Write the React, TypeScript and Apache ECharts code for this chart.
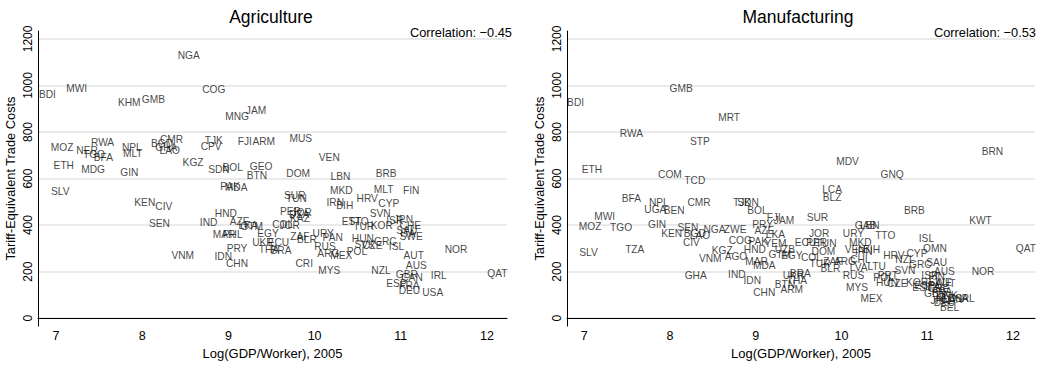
import React, { useEffect, useRef } from "react";
import * as echarts from "echarts";

// ---------- Agriculture panel ----------
const agrCodes = [
  "NGA","BDI","MWI","COG","KHM","GMB","JAM","MNG","CMR","TJK","FJI","ARM","MUS",
  "MOZ","RWA","NPL","NER","TGO","BFA","MLT","BGD","GHA","LAO","CPV","ETH","MDG",
  "GIN","KGZ","SDN","BOL","GEO","BTN","VEN","DOM","LBN","BRB","SLV","PAK","MDA",
  "MKD","MLT","FIN","HRV","CYP","SUR","TUN","IRN","BIH","KEN","CIV","HND","SEN",
  "IND","AZE","LKA","GTM","MAR","PHL","EGY","UKR","ECU","PRY","THA","BRA","VNM",
  "IDN","CHN","PER","JOR","DZA","KAZ","COL","JOR","ZAF","BLR","URY","PAN","RUS",
  "ARG","MEX","POL","HUN","SVK","CZE","GRC","ISL","EST","TTO","TUR","KOR","SVN",
  "ISR","JPN","CHE","SAU","ITA","SWE","AUT","AUS","NZL","CRI","MYS","GBR","CAN",
  "ESP","FRA","DEU","USA","IRL","NOR","QAT"
];
const agrX = [
  8.54,6.90,7.24,8.83,7.85,8.13,9.32,9.10,8.34,8.83,9.19,9.41,9.84,
  7.07,7.54,7.88,7.36,7.44,7.55,7.89,8.23,8.28,8.32,8.80,7.09,7.43,
  7.85,8.59,8.89,9.05,9.38,9.33,10.17,9.81,10.30,10.83,7.05,9.02,9.09,
  10.31,10.80,11.12,10.61,10.86,9.77,9.79,10.24,10.35,8.03,8.25,8.97,8.20,
  8.77,9.13,9.23,9.27,8.95,9.05,9.46,9.40,9.58,9.10,9.47,9.61,8.47,
  8.94,9.10,9.72,9.85,9.82,9.83,9.63,9.71,9.83,9.91,10.10,10.21,10.12,
  10.16,10.31,10.49,10.56,10.58,10.67,10.82,10.95,10.43,10.51,10.57,10.78,10.76,
  10.93,11.03,11.11,11.07,11.08,11.12,11.15,11.18,10.77,9.88,10.17,11.07,11.13,
  10.95,11.10,11.10,11.37,11.44,11.64,12.12
];
const agrY = [
  1129,960,988,982,926,940,893,865,767,762,760,760,774,
  734,755,734,722,703,692,707,750,734,720,739,658,637,
  626,671,637,647,650,612,689,623,607,623,544,565,562,
  548,555,548,513,492,527,513,495,485,495,482,449,405,
  410,414,397,393,361,361,365,326,325,301,296,292,271,
  266,235,457,452,444,427,402,397,351,337,364,347,309,
  280,271,288,342,318,313,330,309,414,417,393,400,449,
  419,426,400,375,364,349,271,227,207,235,206,189,175,
  147,142,118,111,185,297,193
];

// ---------- Manufacturing panel ----------
const mfgCodes = [
  "GMB","BDI","MRT","RWA","STP","ETH","COM","TCD","BFA","CMR","TJK","SDN","BRN",
  "MDV","GNQ","LCA","BLZ","NPL","UGA","BEN","MWI","MOZ","TGO","GIN","SEN","KEN",
  "BGD","LAO","NGA","ZWE","CIV","KGZ","VNM","AGO","TZA","SLV","GHA","IND","IDN",
  "CHN","MAR","MDA","HND","COG","PAK","UZB","AZE","LKA","YEM","BOL","FJI","JAM",
  "PRY","GTM","EGY","UKR","BTN","THA","ARM","BRA","ECU","PER","TUN","JOR","URY",
  "TTO","GAB","LBN","ISL","OMN","MKD","VEN","IRN","BIH","HRV","CYP","NZL","GRC",
  "SAU","AUS","CHL","LTU","LVA","RUS","MYS","MEX","TUR","ZAF","ARG","BLR","COL",
  "DOM","POL","PRT","HUN","CZE","SVN","KOR","ISR","FIN","ESP","EST","ITA","SWE",
  "AUT","CHE","FRA","GBR","DNK","NLD","JPN","DEU","CAN","USA","IRL","BEL","KWT",
  "QAT","NOR","BRB","SUR"
];
const mfgX = [
  8.13,6.90,8.69,7.55,8.35,7.09,8.00,8.29,7.55,8.34,8.84,8.91,11.76,
  10.07,10.59,9.89,9.89,7.87,7.83,8.05,7.24,7.07,7.43,7.85,8.21,8.02,
  8.29,8.35,8.52,8.76,8.25,8.61,8.47,8.77,7.59,7.05,8.30,8.78,8.96,
  9.10,9.01,9.10,8.99,8.82,9.03,9.34,9.10,9.23,9.23,9.02,9.21,9.33,
  9.08,9.28,9.42,9.44,9.34,9.48,9.42,9.52,9.58,9.71,9.82,9.74,10.14,
  10.51,10.28,10.33,10.99,11.09,10.22,10.16,10.26,10.35,10.61,10.88,10.74,10.92,
  11.11,11.20,10.22,10.41,10.20,10.14,10.18,10.35,9.75,9.90,10.04,9.87,9.65,
  9.79,10.49,10.54,10.53,10.65,10.74,10.88,11.03,11.11,10.97,10.94,11.06,11.15,
  11.21,11.13,11.17,11.09,11.23,11.22,11.15,11.20,11.29,11.36,11.46,11.26,11.62,
  12.15,11.65,10.85,9.72
];
const mfgY = [
  985,926,861,794,760,637,619,591,516,499,499,497,717,
  675,616,551,520,496,466,464,438,396,388,404,389,362,
  363,355,382,379,326,290,257,263,297,283,185,189,161,
  111,245,228,297,334,330,297,375,358,323,461,433,421,
  403,275,271,185,144,164,123,192,326,326,321,362,365,
  354,397,397,344,301,326,297,288,297,269,280,252,231,
  238,199,252,224,217,182,132,86,236,242,245,213,259,
  288,175,182,154,151,203,154,182,179,140,131,135,152,
  148,127,114,106,97,85,76,68,80,85,85,48,419,
  299,199,461,433
];

const yTicks = [0, 200, 400, 600, 800, 1000, 1200];
const xTicks = [7, 8, 9, 10, 11, 12];
const titles = ["Agriculture", "Manufacturing"];
const correlations = ["Correlation: \u22120.45", "Correlation: \u22120.53"];

const FONT = '"Liberation Sans", Arial, Helvetica, sans-serif';

function makeData(codes: string[], xs: number[], ys: number[]) {
  return codes.map((c, i) => [xs[i], ys[i], c]);
}

export default function App() {
  const ref = useRef<HTMLDivElement>(null);
  useEffect(() => {
    if (!ref.current) return;
    const chart = echarts.init(ref.current, null, { renderer: "svg" });
    const grids = [
      { left: 38, top: 31, width: 469, height: 300 },
      { left: 567, top: 31, width: 468, height: 300 },
    ];
    const xRanges = [
      [6.791, 12.232],
      [6.8, 12.256],
    ];
    const xAxis = [0, 1].map((i) => ({
      type: "value",
      gridIndex: i,
      min: xRanges[i][0],
      max: xRanges[i][1],
      name: "Log(GDP/Worker), 2005",
      nameLocation: "middle",
      nameGap: 15,
      nameTextStyle: { fontSize: 13, color: "#000", fontFamily: FONT },
      axisLine: { show: true, lineStyle: { color: "#000", width: 1 } },
      axisTick: { show: false, customValues: xTicks },
      axisLabel: {
        customValues: xTicks,
        formatter: (v: number) => String(v),
        fontSize: 12.5,
        color: "#000",
        margin: 3,
        fontFamily: FONT,
      },
      splitLine: { show: false },
    }));
    const yAxis = [0, 1].map((i) => ({
      type: "value",
      gridIndex: i,
      min: -34,
      max: 1234,
      name: "Tariff-Equivalent Trade Costs",
      nameLocation: "middle",
      nameGap: 21,
      nameRotate: 90,
      nameTextStyle: { fontSize: 12.8, color: "#000", fontFamily: FONT },
      axisLine: { show: true, lineStyle: { color: "#000", width: 1 } },
      axisTick: { show: false, customValues: yTicks },
      axisLabel: {
        customValues: yTicks,
        formatter: (v: number) => String(v),
        rotate: 90,
        fontSize: 12,
        color: "#000",
        margin: 4,
        fontFamily: FONT,
      },
      splitLine: { show: true, lineStyle: { color: "#e3e3e3", width: 1.5 } },
    }));
    const datasets = [
      makeData(agrCodes, agrX, agrY),
      makeData(mfgCodes, mfgX, mfgY),
    ];
    const series = [0, 1].map((i) => ({
      type: "scatter",
      xAxisIndex: i,
      yAxisIndex: i,
      data: datasets[i],
      symbol: "circle",
      symbolSize: 1,
      itemStyle: { color: "rgba(0,0,0,0)" },
      label: {
        show: true,
        position: "inside",
        formatter: (p: any) => p.value[2],
        fontSize: 10.2,
        color: "#111",
        fontFamily: FONT,
      },
      emphasis: { disabled: true },
    }));
    const titleCenters = [271, 798];
    const corrRights = [512, 1036];
    const title: any[] = [];
    [0, 1].forEach((i) => {
      title.push({
        text: titles[i],
        left: titleCenters[i],
        top: 8,
        padding: 0,
        textAlign: "center",
        textStyle: { fontSize: 17.5, fontWeight: "normal", color: "#000", fontFamily: FONT },
      });
      title.push({
        text: correlations[i],
        left: corrRights[i],
        top: 26,
        padding: 0,
        textAlign: "right",
        textStyle: { fontSize: 12.8, fontWeight: "normal", color: "#000", fontFamily: FONT },
      });
    });
    chart.setOption({
      animation: false,
      backgroundColor: "#fff",
      textStyle: { fontFamily: FONT },
      title,
      grid: grids,
      xAxis,
      yAxis,
      series,
    });
    return () => chart.dispose();
  }, []);
  return (
    <div
      ref={ref}
      style={{ position: "fixed", left: 0, top: 0, width: 1049, height: 365, background: "#fff" }}
    />
  );
}
